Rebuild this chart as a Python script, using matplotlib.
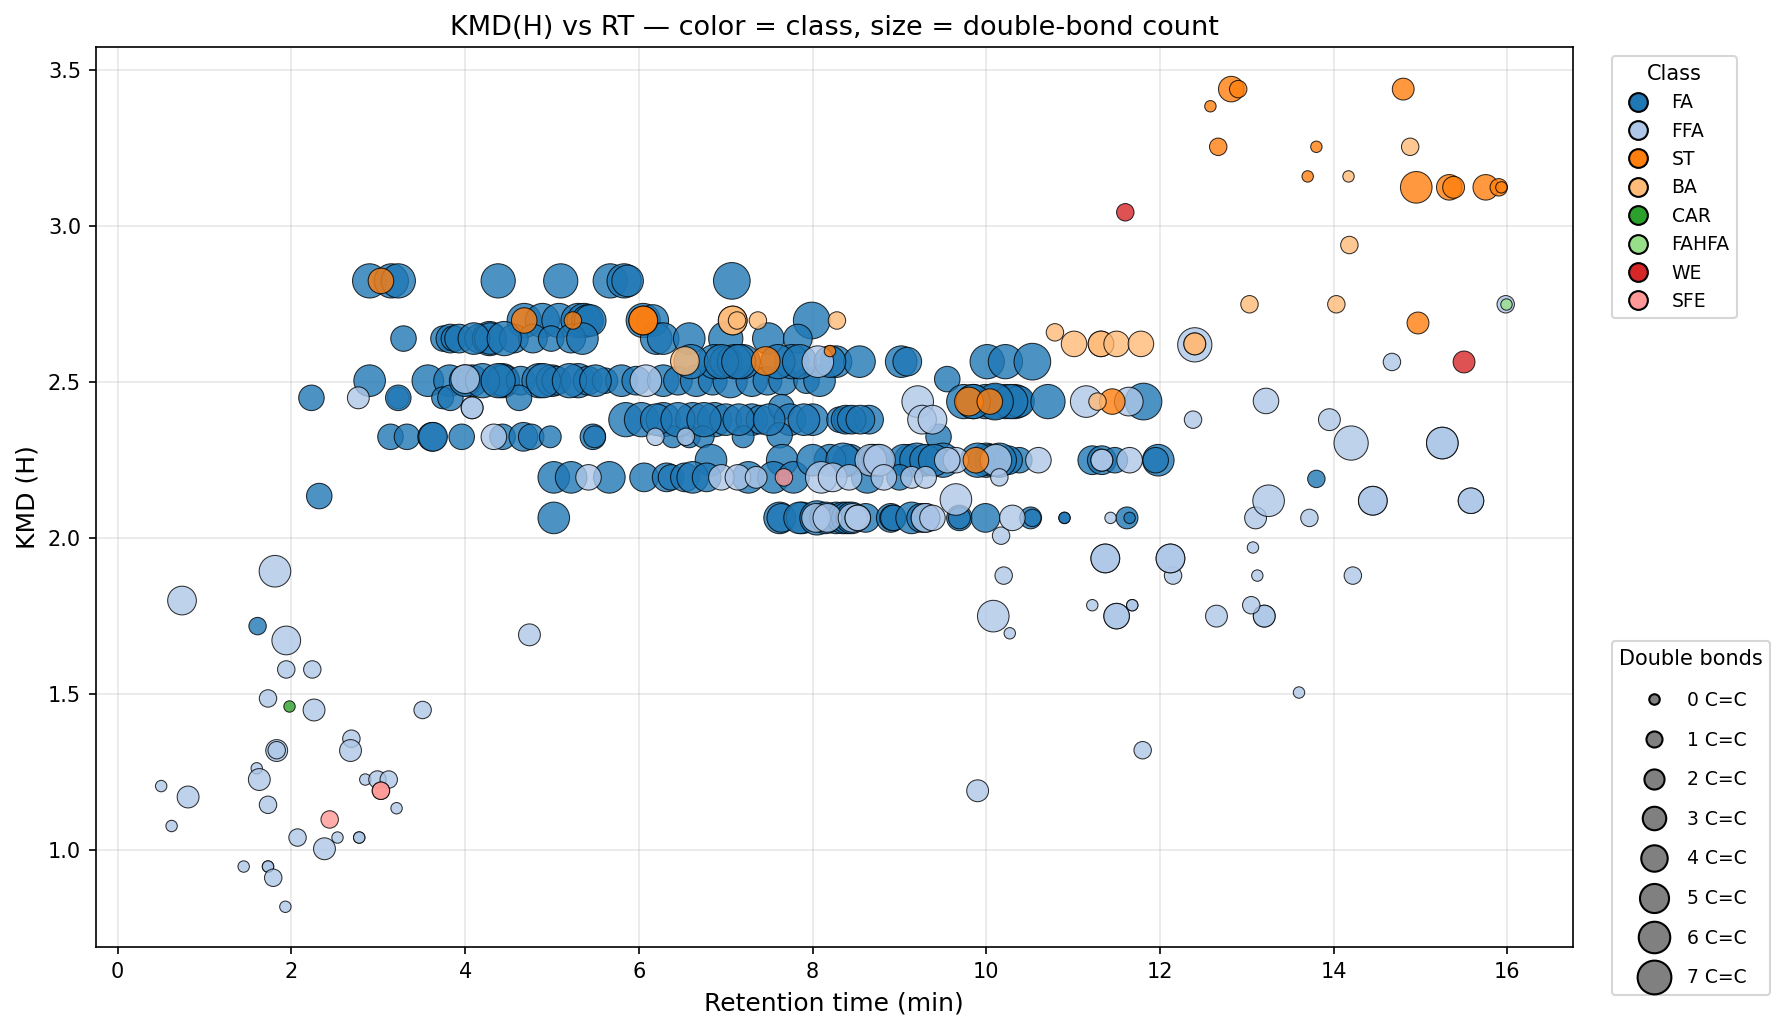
import matplotlib
matplotlib.use("Agg")
import matplotlib.pyplot as plt
from matplotlib.lines import Line2D

W, H = 1785, 1030
DPI = 150

# FA points: retention time, KMD, double bonds
fa_x = [2.9, 3.15, 3.23, 4.38, 5.1, 5.67, 5.83, 5.87, 7.07,
        4.68, 4.89, 5.08, 5.3, 5.37, 5.41, 5.44, 6.05, 6.16, 7.99,
        3.29, 3.75, 3.83, 3.87, 3.93, 4.16, 4.28, 4.29, 4.56, 4.78, 4.99, 5.22, 5.35,
        6.2, 6.28, 6.58, 7.0, 7.49, 7.83,
        2.23, 2.9, 3.23, 3.57, 3.82, 4.08, 4.43, 4.44, 4.64, 4.85, 5.0, 5.05, 5.3, 5.41, 5.61,
        5.8, 5.97, 6.28, 6.45, 6.66, 6.85, 7.05, 7.3, 7.48, 7.66, 7.93, 8.08,
        6.87, 7.2, 7.76, 8.27, 8.54, 9.02, 9.09, 10.01, 10.22, 10.53, 7.0, 7.1,
        9.55, 9.74, 9.99, 10.22, 10.33, 10.37, 10.71, 11.81,
        3.23, 3.74, 3.83, 4.62,
        5.85, 6.03, 6.28, 6.62, 6.87, 7.0, 7.3, 7.4, 7.64, 7.74, 8.0, 8.31, 8.39, 8.38, 8.65,
        3.14, 3.33, 3.62, 3.63, 3.96, 4.43, 4.67, 4.76, 4.98, 5.47, 5.49,
        6.39, 6.58, 6.74, 7.2, 7.62, 9.45,
        6.83, 7.65, 8.43, 8.4, 9.12, 9.05, 9.2, 10.0, 10.05, 10.38, 11.22, 11.33, 11.48, 11.98, 11.95, 9.5, 10.25,
        5.02, 5.22, 5.66, 6.06, 6.32, 6.37, 6.53, 6.62, 6.78, 7.26, 7.55, 7.78, 8.63, 9.0,
        5.02, 7.62, 7.64, 7.88, 8.11, 8.27, 8.61, 8.9, 8.92, 8.93, 9.14, 9.69, 9.69, 9.99, 10.51, 10.53, 10.9, 10.9,
        11.62, 11.65, 2.32, 13.8, 1.61,
        4.0, 4.2, 4.38, 4.9, 5.2, 5.5, 6.6, 6.95, 7.15, 7.6, 7.85, 8.2, 4.1, 4.45,
        6.2, 6.45, 6.75, 7.15, 7.5, 7.9, 8.45, 8.55,
        9.85, 10.1, 10.28, 10.1, 8.2, 8.0, 8.35, 8.7, 8.75, 9.9, 10.15, 9.85, 9.3, 9.4,
        7.85, 8.05, 8.15, 8.35, 8.4, 8.45, 9.25, 9.3]
fa_y = [2.825, 2.825, 2.825, 2.825, 2.825, 2.825, 2.825, 2.825, 2.825,
        2.698, 2.698, 2.698, 2.698, 2.698, 2.698, 2.698, 2.698, 2.698, 2.698,
        2.64, 2.64, 2.64, 2.64, 2.64, 2.64, 2.64, 2.64, 2.64, 2.64, 2.64, 2.64, 2.64,
        2.64, 2.64, 2.64, 2.64, 2.64, 2.64,
        2.45, 2.505, 2.45, 2.505, 2.505, 2.505, 2.505, 2.505, 2.505, 2.505, 2.505, 2.505, 2.505, 2.505, 2.505,
        2.505, 2.505, 2.505, 2.505, 2.505, 2.505, 2.505, 2.505, 2.505, 2.505, 2.505, 2.505,
        2.566, 2.566, 2.566, 2.566, 2.566, 2.566, 2.566, 2.566, 2.566, 2.566, 2.566, 2.566,
        2.51, 2.438, 2.438, 2.438, 2.438, 2.438, 2.438, 2.438,
        2.45, 2.45, 2.45, 2.45,
        2.38, 2.38, 2.38, 2.38, 2.38, 2.38, 2.38, 2.38, 2.42, 2.38, 2.38, 2.38, 2.38, 2.38, 2.38,
        2.325, 2.325, 2.325, 2.325, 2.325, 2.325, 2.325, 2.325, 2.325, 2.325, 2.325,
        2.325, 2.325, 2.325, 2.325, 2.33, 2.325,
        2.25, 2.25, 2.25, 2.25, 2.25, 2.25, 2.25, 2.25, 2.25, 2.25, 2.25, 2.25, 2.25, 2.25, 2.25, 2.25, 2.25,
        2.195, 2.195, 2.195, 2.195, 2.195, 2.195, 2.195, 2.195, 2.195, 2.195, 2.195, 2.195, 2.195, 2.195,
        2.065, 2.065, 2.065, 2.065, 2.065, 2.065, 2.065, 2.065, 2.065, 2.065, 2.065, 2.065, 2.065, 2.065, 2.065, 2.065, 2.065, 2.065,
        2.065, 2.065, 2.135, 2.19, 1.718,
        2.505, 2.505, 2.505, 2.505, 2.505, 2.505, 2.566, 2.566, 2.566, 2.566, 2.566, 2.566, 2.64, 2.64,
        2.38, 2.38, 2.38, 2.38, 2.38, 2.38, 2.38, 2.38,
        2.438, 2.438, 2.438, 2.438, 2.25, 2.25, 2.25, 2.25, 2.25, 2.25, 2.25, 2.438, 2.25, 2.25,
        2.065, 2.065, 2.065, 2.065, 2.065, 2.065, 2.065, 2.065]
fa_db = [6, 6, 6, 6, 6, 6, 6, 5, 7,
         6, 6, 6, 6, 6, 5, 5, 6, 5, 7,
         3, 3, 4, 3, 4, 4, 6, 5, 4, 4, 3, 4, 5,
         5, 5, 5, 6, 5, 4,
         3, 5, 2, 5, 5, 5, 6, 5, 4, 6, 5, 4, 6, 4, 3,
         5, 4, 5, 4, 5, 4, 6, 5, 4, 4, 3, 5,
         6, 6, 6, 5, 5, 5, 4, 6, 6, 7, 5, 6,
         3, 6, 6, 6, 6, 5, 6, 7,
         3, 2, 3, 3,
         6, 6, 6, 6, 6, 5, 5, 4, 3, 5, 5, 3, 3, 4, 4,
         3, 3, 4, 4, 3, 3, 4, 3, 2, 3, 2,
         2, 2, 2, 2, 3, 3,
         5, 5, 5, 4, 5, 5, 6, 6, 5, 3, 4, 4, 3, 5, 3, 6, 4,
         5, 5, 5, 4, 4, 3, 4, 5, 4, 5, 5, 5, 5, 3,
         5, 5, 4, 5, 4, 5, 4, 4, 3, 3, 5, 3, 2, 4, 2, 1, 0, 0,
         2, 0, 3, 1, 1,
         5, 6, 6, 6, 6, 5, 6, 6, 6, 6, 6, 5, 5, 6,
         5, 6, 6, 5, 5, 5, 4, 4,
         6, 6, 6, 7, 5, 5, 6, 5, 5, 6, 6, 6, 5, 5,
         5, 6, 5, 5, 5, 5, 4, 4]

ffa_x = [1.81, 0.74, 1.94, 1.94, 2.24, 1.73, 2.26, 3.51, 1.83, 1.83, 2.69, 2.68, 1.6, 1.63,
         2.85, 2.99, 3.12, 0.5, 0.81, 1.73, 3.21, 0.62, 2.07, 2.53, 2.78, 2.78, 2.38, 1.45,
         1.73, 1.73, 1.79, 1.93, 4.74, 9.9, 11.8, 13.6, 12.65, 13.2, 13.2, 13.05, 11.22, 11.5,
         11.5, 11.68, 11.68, 10.08, 10.27, 10.2, 12.15, 13.12, 14.22, 11.37, 11.37, 12.12, 12.12,
         13.07, 10.17, 13.1, 13.25, 13.72, 14.45, 14.45, 15.58, 15.58, 15.25, 15.25, 14.2, 13.95,
         13.22, 12.38, 14.67, 12.4, 15.98,
         8.06, 9.21, 9.26, 9.38, 11.15, 11.64, 8.67, 8.77, 9.65, 9.55, 10.11, 10.6, 11.33, 11.33,
         11.65, 6.95, 7.14, 7.35, 8.1, 8.23, 8.42, 8.82, 9.14, 9.3, 10.15, 8.04, 8.17, 8.46,
         8.52, 8.52, 9.3, 9.38, 9.65, 10.3, 11.43,
         4.0, 4.08, 4.08, 4.33, 6.19, 6.54, 5.42, 2.77, 6.08]
ffa_y = [1.894, 1.8, 1.672, 1.579, 1.579, 1.486, 1.449, 1.449, 1.319, 1.32, 1.357, 1.319, 1.262, 1.226,
         1.226, 1.226, 1.226, 1.205, 1.17, 1.145, 1.134, 1.077, 1.04, 1.04, 1.04, 1.04, 1.004, 0.947,
         0.947, 0.947, 0.911, 0.818, 1.69, 1.19, 1.32, 1.505, 1.75, 1.75, 1.75, 1.785, 1.785, 1.75,
         1.75, 1.785, 1.785, 1.75, 1.695, 1.88, 1.88, 1.88, 1.88, 1.935, 1.935, 1.935, 1.935,
         1.97, 2.008, 2.065, 2.12, 2.065, 2.12, 2.12, 2.12, 2.12, 2.305, 2.305, 2.305, 2.38,
         2.44, 2.38, 2.565, 2.62, 2.75,
         2.566, 2.438, 2.38, 2.38, 2.438, 2.438, 2.25, 2.25, 2.25, 2.25, 2.25, 2.25, 2.25, 2.25,
         2.25, 2.195, 2.195, 2.195, 2.195, 2.195, 2.195, 2.195, 2.195, 2.195, 2.195, 2.065, 2.065, 2.065,
         2.065, 2.065, 2.065, 2.065, 2.124, 2.065, 2.065,
         2.51, 2.418, 2.418, 2.325, 2.325, 2.325, 2.195, 2.45, 2.505]
ffa_db = [5, 4, 4, 1, 1, 1, 2, 1, 2, 1, 1, 2, 0, 2,
          0, 1, 1, 0, 2, 1, 0, 0, 1, 0, 0, 0, 2, 0,
          0, 0, 1, 0, 2, 2, 1, 0, 2, 2, 2, 1, 0, 3,
          3, 0, 0, 5, 0, 1, 1, 0, 1, 4, 4, 4, 4,
          0, 1, 2, 5, 1, 4, 4, 3, 3, 5, 5, 6, 2,
          3, 1, 1, 6, 1,
          5, 5, 4, 4, 5, 4, 5, 5, 3, 3, 5, 3, 2, 2,
          3, 3, 3, 2, 5, 4, 3, 3, 2, 2, 1, 4, 4, 4,
          3, 3, 4, 3, 5, 3, 0,
          4, 2, 2, 3, 1, 1, 3, 2, 5]

st_x = [12.82, 12.9, 12.58, 12.67, 13.8, 13.7, 14.8, 14.95, 15.33, 15.38, 15.75, 15.9, 15.93, 14.97,
        4.68, 5.24, 6.05, 6.05, 7.46, 8.2, 3.03, 9.88, 9.8, 10.04, 11.45]
st_y = [3.44, 3.44, 3.385, 3.255, 3.255, 3.16, 3.44, 3.125, 3.125, 3.125, 3.125, 3.125, 3.125, 2.69,
        2.698, 2.698, 2.698, 2.698, 2.568, 2.6, 2.825, 2.25, 2.438, 2.438, 2.438]
st_db = [3, 1, 0, 1, 0, 0, 2, 5, 3, 2, 3, 1, 0, 2,
         3, 1, 4, 4, 4, 0, 3, 3, 4, 3, 3]

ba_x = [6.53, 7.08, 7.08, 7.13, 7.37, 8.28, 10.79, 11.01, 11.32, 11.32, 11.5, 11.78, 11.28,
        14.88, 14.17, 14.18, 13.03, 14.03, 12.4, 12.4]
ba_y = [2.568, 2.698, 2.698, 2.698, 2.698, 2.698, 2.66, 2.623, 2.623, 2.623, 2.623, 2.623, 2.438,
        3.255, 3.16, 2.94, 2.75, 2.75, 2.623, 2.623]
ba_db = [4, 4, 4, 1, 1, 1, 1, 3, 3, 3, 3, 3, 1,
         1, 0, 1, 1, 1, 2, 2]

car_x = [1.97]
car_y = [1.462]
car_db = [0]

fahfa_x = [15.98]
fahfa_y = [2.75]
fahfa_db = [0]

we_x = [11.6, 15.5]
we_y = [3.045, 2.565]
we_db = [1, 2]

sfe_x = [2.44, 3.03, 3.03, 7.67]
sfe_y = [1.098, 1.19, 1.19, 2.195]
sfe_db = [1, 1, 1, 1]

classes = ["FA", "FFA", "ST", "BA", "CAR", "FAHFA", "WE", "SFE"]
colors = ["#1f77b4", "#aec7e8", "#ff7f0e", "#ffbb78", "#2ca02c", "#98df8a", "#d62728", "#ff9896"]
series = [(fa_x, fa_y, fa_db), (ffa_x, ffa_y, ffa_db), (st_x, st_y, st_db), (ba_x, ba_y, ba_db),
          (car_x, car_y, car_db), (fahfa_x, fahfa_y, fahfa_db), (we_x, we_y, we_db), (sfe_x, sfe_y, sfe_db)]


def bubble_size(db):
    return 30 + 40 * db


fig = plt.figure(figsize=(W / DPI, H / DPI), dpi=DPI)
ax = fig.add_axes([95.6 / W, 1 - 947 / H, 1477 / W, 900 / H])

for name, col, (xs, ys, dbs) in zip(classes, colors, series):
    ax.scatter(xs, ys, s=[bubble_size(d) for d in dbs], c=col, alpha=0.8,
               edgecolors="black", linewidths=0.5, label=name, zorder=3)

ax.set_xlim(-0.255, 16.75)
ax.set_ylim(0.689, 3.575)
ax.set_xticks([0, 2, 4, 6, 8, 10, 12, 14, 16])
ax.set_yticks([1.0, 1.5, 2.0, 2.5, 3.0, 3.5])
ax.grid(True, alpha=0.3)
ax.set_axisbelow(True)
ax.set_xlabel("Retention time (min)", fontsize=12, labelpad=5)
ax.set_ylabel("KMD (H)", fontsize=12)
ax.set_title("KMD(H) vs RT — color = class, size = double-bond count", fontsize=13)

class_handles = [Line2D([], [], linestyle="none", marker="o", markersize=9, markerfacecolor=c,
                        markeredgecolor="black", label=n) for n, c in zip(classes, colors)]
leg1 = ax.legend(handles=class_handles, title="Class", loc="upper left", bbox_to_anchor=(1.02, 1.0),
                 fontsize=9, title_fontsize=10)
ax.add_artist(leg1)

bond_counts = [0, 1, 2, 3, 4, 5, 6, 7]
size_handles = [Line2D([], [], linestyle="none", marker="o", markersize=bubble_size(d) ** 0.5 * 0.92,
                       markerfacecolor="gray", markeredgecolor="black", label=f"{d} C=C")
                for d in bond_counts]
leg2 = ax.legend(handles=size_handles, title="Double bonds", loc="upper left", bbox_to_anchor=(1.02, 0.35),
                 fontsize=9, title_fontsize=10, labelspacing=1.1)
leg2._legend_box.sep = 10.6

fig.savefig("out.png", dpi=DPI)
